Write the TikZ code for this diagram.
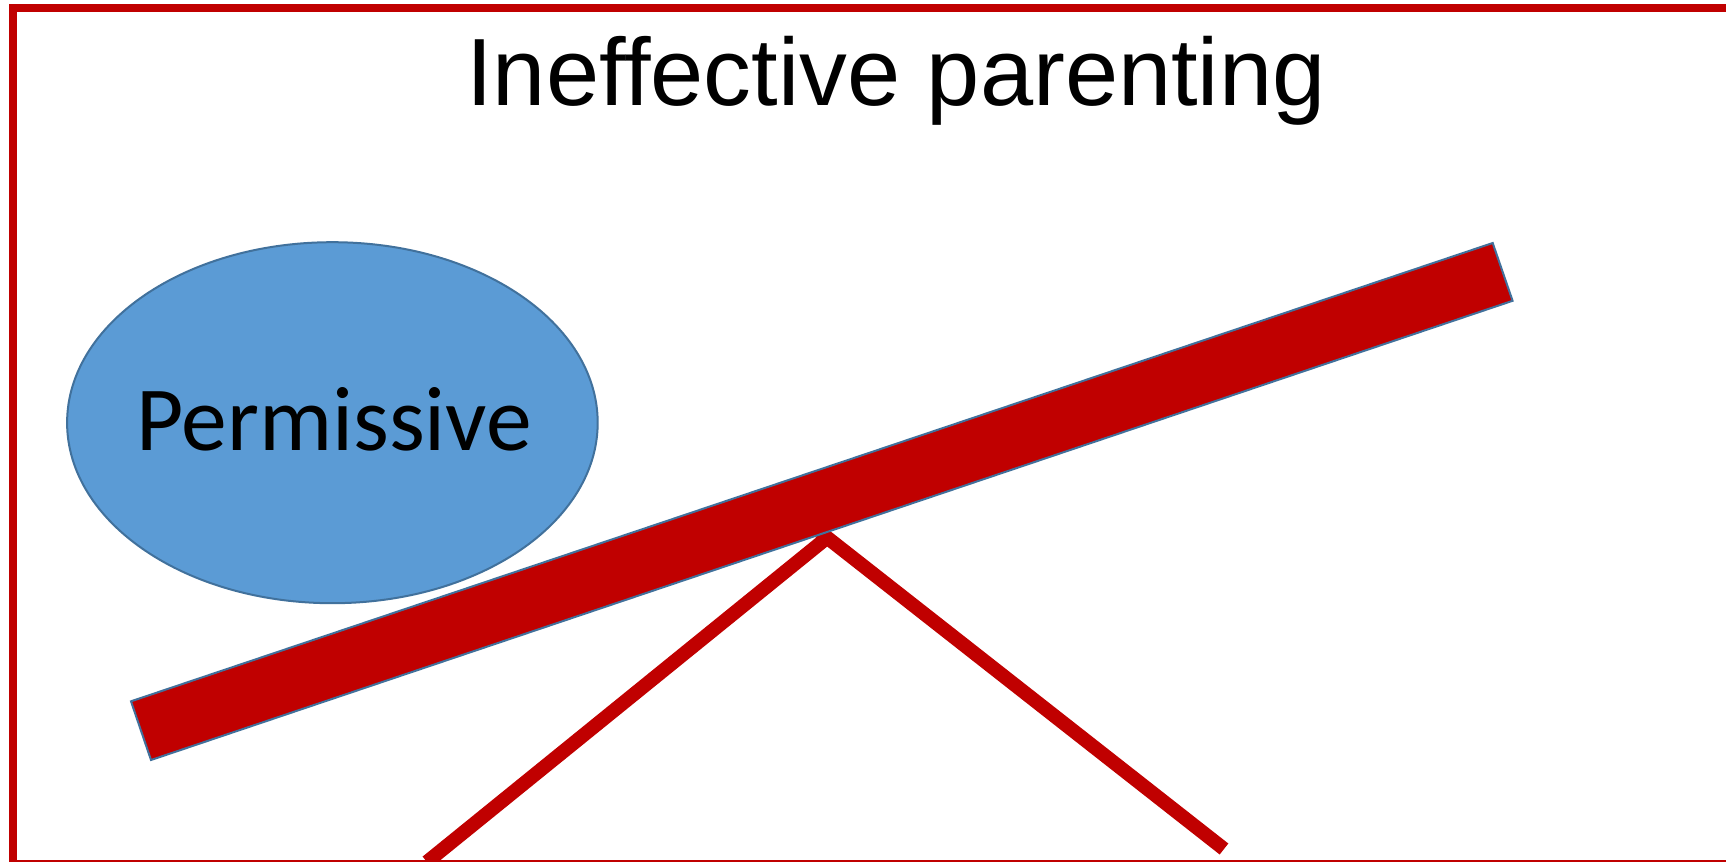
\documentclass[tikz,border=0pt]{standalone}
\usepackage{fontspec}
\setmainfont{Liberation Sans}
\newfontfamily\calib{Carlito}
\usetikzlibrary{shapes.geometric}
\definecolor{darkred}{HTML}{C00000}
\definecolor{ellblue}{HTML}{5B9BD5}
\definecolor{edgeblue}{HTML}{41719C}
\tikzset{
  frameline/.style={draw=darkred, line width=4pt},
  plank/.style={fill=darkred, draw=edgeblue, line width=1pt, line join=miter},
  legline/.style={draw=darkred, line width=7pt, line cap=butt},
  bubble/.style={ellipse, fill=ellblue, draw=edgeblue, line width=1pt, minimum width=530.6*0.5pt, minimum height=361*0.5pt, inner sep=0pt},
}
\begin{document}
\begin{tikzpicture}[x=0.5pt,y=-0.5pt]
\useasboundingbox (0,0) rectangle (1726,862);
\clip (0,0) rectangle (1726,862);
\fill[white] (0,0) rectangle (1726,862);
\draw[frameline] (13,8) rectangle (1745,864);
% title
\node[anchor=base, inner sep=0pt, font=\fontsize{47.8pt}{50pt}\selectfont] (title) at (896,105.7) {Ineffective parenting};
% ellipse
\node[bubble] (perm) at (332.4,422.7) {};
\node[anchor=base, inner sep=0pt, font=\calib\fontsize{45.8pt}{48pt}\selectfont] (permtext) at (334,450) {Permissive};
% legs
\coordinate (leftfoot) at (427,862);
\coordinate (lefttop) at (823,541);
\coordinate (righttop) at (820,532);
\coordinate (rightfoot) at (1224,849);
\draw[legline] (leftfoot) -- (lefttop);
\draw[legline] (righttop) -- (rightfoot);
% plank
\coordinate (ptl) at (131,701.3);
\coordinate (pbl) at (151,760);
\coordinate (pbr) at (1512.6,300.8);
\coordinate (ptr) at (1492.7,243);
\draw[plank] (ptl) -- (ptr) -- (pbr) -- (pbl) -- cycle;
\end{tikzpicture}
\end{document}
